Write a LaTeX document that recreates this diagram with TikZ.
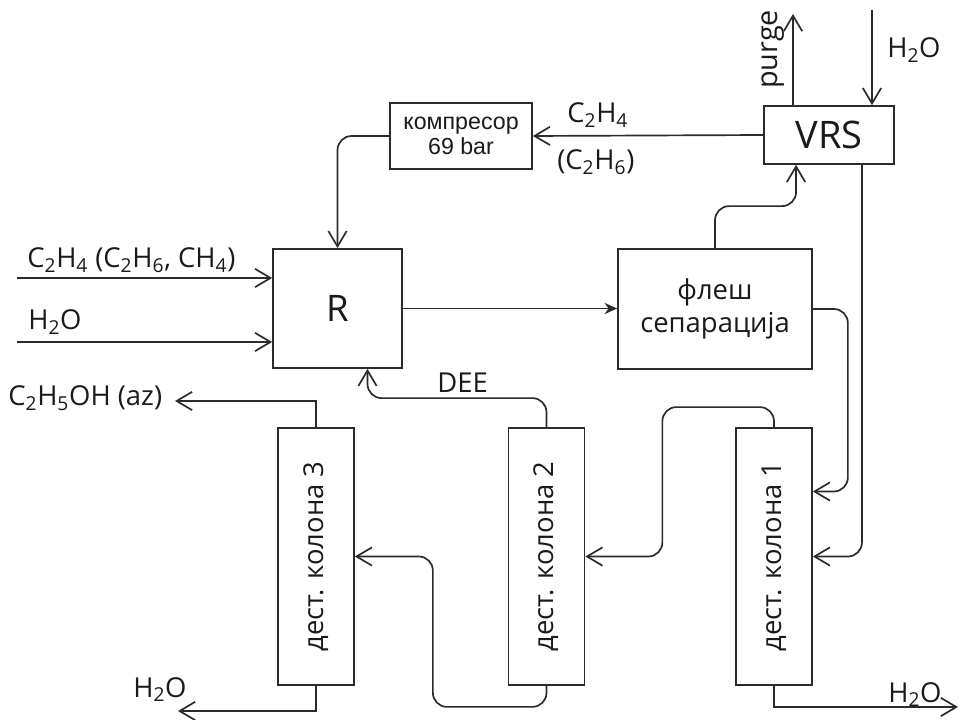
\documentclass[tikz,border=0pt]{standalone}
\usepackage{fontspec}
\usepackage{graphicx}
\setmainfont{Open Sans}
\newfontfamily\arialfont{Liberation Sans}
\usetikzlibrary{arrows.meta, calc}
\definecolor{LineGray}{HTML}{2B2B2B}
\definecolor{InkText}{HTML}{1A1A1A}

\begin{document}
\begin{tikzpicture}[
    x=0.025cm, y=-0.025cm,
    unit/.style={
        rectangle, draw=LineGray, line width=1.2pt, inner sep=0pt, align=center,
        text=InkText, font=\fontsize{19.5}{23.5}\selectfont
    },
    column/.style={
        unit, minimum width=1.9cm, minimum height=6.425cm
    },
    tag/.style={
        inner sep=0pt, text=InkText, font=\fontsize{19.5}{23.5}\selectfont
    },
    flow/.style={
        -{Straight Barb[length=11pt, width=13pt]}, line width=1.2pt, color=LineGray
    },
    pipe/.style={flow, rounded corners=10pt}
]
    \useasboundingbox (0,0) rectangle (960,720);

    % Units
    \node[unit, minimum width=3.55cm, minimum height=1.65cm,
          font=\arialfont\fontsize{16.5}{18}\selectfont] (comp) at (461,136) {компресор\\69 bar};
    \node[unit, minimum width=3.25cm, minimum height=1.45cm,
          font=\fontsize{27}{32}\selectfont] (vrs) at (829,135) {VRS};
    \node[unit, minimum width=3.225cm, minimum height=2.975cm,
          font=\fontsize{26}{30}\selectfont] (R) at (337.5,308.5) {\raisebox{-5pt}{R}};
    \node[unit, minimum width=4.85cm, minimum height=3cm] (flash) at (715,309) {флеш\\сепарација};

    \node[column] (col3) at (316,556.5) {\rotatebox{90}{дест. колона 3}};
    \node[column] (col2) at (546.5,556.5) {\rotatebox{90}{дест. колона 2}};
    \node[column] (col1) at (774,556.5) {\rotatebox{90}{дест. колона 1}};

    % Free ends
    \coordinate (feedIn) at (17,278);
    \coordinate (waterIn) at (17,342);
    \coordinate (purgeOut) at (793,14);
    \coordinate (waterTop) at (872,10);
    \coordinate (azOut) at (175,401);
    \coordinate (waterLeft) at (178,711);
    \coordinate (waterRight) at (958,707);

    % Labels
    \node[tag, anchor=base west] (feedlbl) at (27,268) {C\textsubscript{2}H\textsubscript{4} (C\textsubscript{2}H\textsubscript{6}, CH\textsubscript{4})};
    \node[tag, anchor=base west] (waterlbl) at (28,330) {H\textsubscript{2}O};
    \node[tag, anchor=base west] (ethlbl) at (567,123) {C\textsubscript{2}H\textsubscript{4}};
    \node[tag, anchor=base west] (ethanelbl) at (557,170) {(C\textsubscript{2}H\textsubscript{6})};
    \node[tag, rotate=90, anchor=base west, font=\fontsize{20.5}{24}\selectfont] (purgelbl) at (777,89) {purge};
    \node[tag, anchor=base west] (toplbl) at (887,58) {H\textsubscript{2}O};
    \node[tag, anchor=base west] (deelbl) at (437,393) {DEE};
    \node[tag, anchor=base west] (azlbl) at (8,406) {C\textsubscript{2}H\textsubscript{5}OH (az)};
    \node[tag, anchor=base west] (leftlbl) at (133,697) {H\textsubscript{2}O};
    \node[tag, anchor=base west] (rightlbl) at (888,702) {H\textsubscript{2}O};

    % Links
    \draw[flow] (vrs.west) -- (comp.east);
    \draw[pipe] (comp.west) -| (R.north);
    \draw[flow] (feedIn) -- (feedIn -| R.west);
    \draw[flow] (waterIn) -- (waterIn -| R.west);
    \draw[line width=1.2pt, color=LineGray, -{Stealth[length=9pt, width=8pt]}] (R.east) -- (R.east -| flash.west);
    \draw[pipe] (flash.north) -- ++(0,-42) -| ($(vrs.south west)!0.25!(vrs.south east)$);
    \draw[flow] (purgeOut |- vrs.north) -- (purgeOut);
    \draw[flow] (waterTop) -- (waterTop |- vrs.north);
    \draw[pipe] ($(vrs.south west)!0.75!(vrs.south east)$) |- (col1.east);
    \draw[pipe] (flash.east) -- ++(35,0) |- ($(col1.east)+(0,-65)$);
    \draw[pipe] (col1.north) -- ++(0,-20) -| ($(col2.east)+(77,0)$) -- (col2.east);
    \draw[pipe] (col2.north) -- ++(0,-29) -| ($(R.south)+(30,0)$);
    \draw[flow] (col3.north) |- (azOut);
    \draw[pipe] (col2.south) -- ++(0,21) -| ($(col3.east)+(78,0)$) -- (col3.east);
    \draw[flow] (col3.south) |- (waterLeft);
    \draw[flow] (col1.south) |- (waterRight);

\end{tikzpicture}
\end{document}
